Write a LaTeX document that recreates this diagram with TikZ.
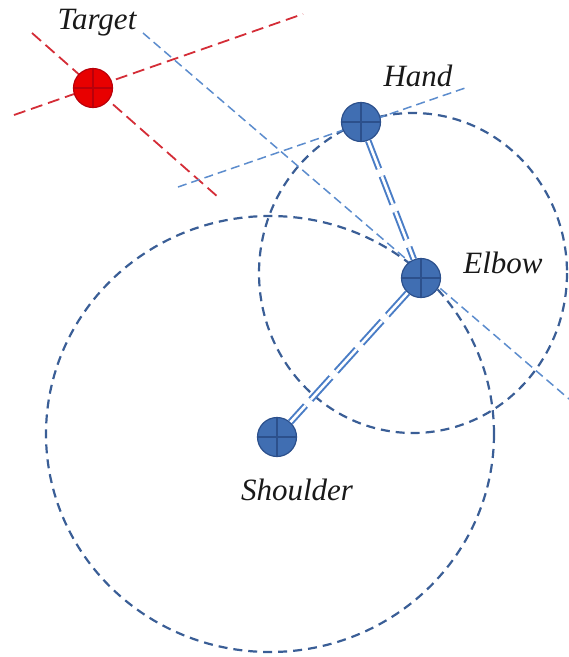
\documentclass[tikz,border=0pt]{standalone}
\usepackage{tikz}
\usepackage{fontspec}
\setmainfont{Liberation Serif}
\pgfdeclarelayer{background}
\pgfsetlayers{background,main}

\definecolor{reachblue}{RGB}{58,94,150}
\definecolor{axisblue}{RGB}{92,140,205}
\definecolor{linkblue}{RGB}{74,125,198}
\definecolor{jointfill}{RGB}{64,110,178}
\definecolor{jointedge}{RGB}{44,80,140}
\definecolor{goalfill}{RGB}{232,0,0}
\definecolor{goaledge}{RGB}{185,0,10}
\definecolor{goalline}{RGB}{212,45,55}

\tikzset{
  joint/.style={circle, minimum size=39pt, inner sep=0pt, fill=jointfill,
    draw=jointedge, line width=1.2pt,
    path picture={\draw[jointedge, line width=1.6pt]
      (path picture bounding box.north) -- (path picture bounding box.south)
      (path picture bounding box.west) -- (path picture bounding box.east);}},
  goal/.style={joint, fill=goalfill, draw=goaledge,
    path picture={\draw[goaledge, line width=1.6pt]
      (path picture bounding box.north) -- (path picture bounding box.south)
      (path picture bounding box.west) -- (path picture bounding box.east);}},
  reach/.style={draw=reachblue, line width=2.2pt, dash pattern=on 9pt off 6pt},
  axisline/.style={draw=axisblue, line width=1.5pt, dash pattern=on 9pt off 5pt},
  goalaxis/.style={draw=goalline, line width=1.8pt, dash pattern=on 12pt off 6pt},
  link/.style={draw=linkblue, line width=2pt, double=white, double distance=2.6pt,
    dash pattern=on 30pt off 8pt},
  label/.style={font=\itshape\fontsize{31}{34}\selectfont, text=black!90, inner sep=0pt},
}

\begin{document}
\begin{tikzpicture}[x=1pt, y=-1pt]
  \useasboundingbox (0,0) rectangle (569,657);

  % joints and target
  \node[goal]  (target)   at (93,88)   {};
  \node[joint] (hand)     at (361,122) {};
  \node[joint] (elbow)    at (421,278) {};
  \node[joint] (shoulder) at (277,437) {};

  % labels
  \node[label] (ltarget)   at (97,23)   {Target};
  \node[label] (lhand)     at (418,76)  {Hand};
  \node[label] (lelbow)    at (503,263) {Elbow};
  \node[label] (lshoulder) at (297,490) {Shoulder};

  % end points of the guide lines
  \coordinate (ta1) at (14,115);
  \coordinate (ta2) at (303,14);
  \coordinate (tb1) at (32,33);
  \coordinate (tb2) at (218,197);
  \coordinate (ha1) at (178,187);
  \coordinate (ha2) at (468,87);
  \coordinate (ea1) at (143,33);
  \coordinate (ea2) at (569,399);

  \begin{pgfonlayer}{background}
    % reach circles
    \draw[reach] (270,434) ellipse [x radius=224, y radius=218];
    \draw[reach] (413,273) ellipse [x radius=154, y radius=160];
    % guide lines
    \draw[goalaxis] (ta1) -- (ta2);
    \draw[goalaxis] (tb1) -- (tb2);
    \draw[axisline] (ha1) -- (ha2);
    \draw[axisline] (ea1) -- (ea2);
  \end{pgfonlayer}

  % arm links
  \draw[link] (hand) -- (elbow);
  \draw[link] (elbow) -- (shoulder);
\end{tikzpicture}
\end{document}
